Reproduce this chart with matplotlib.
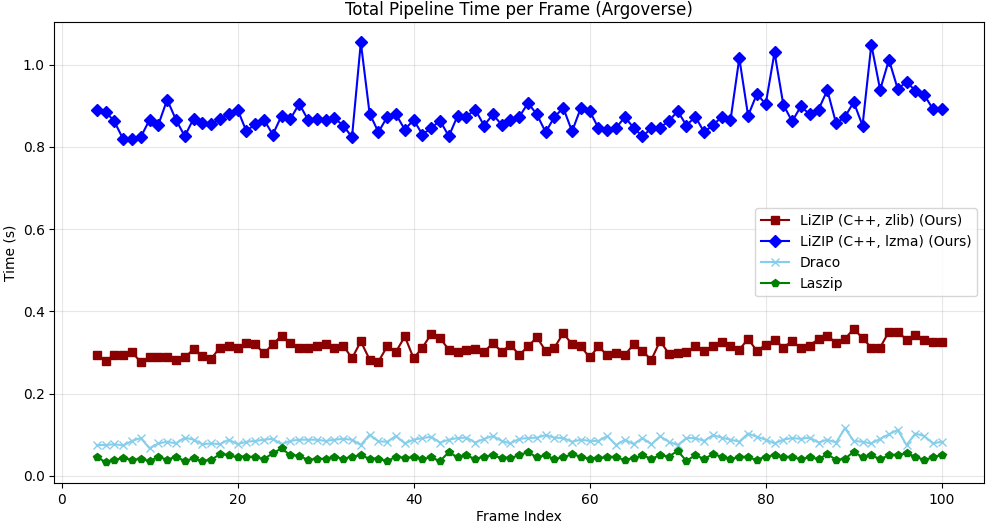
import numpy as np
import matplotlib
matplotlib.use('Agg')
from matplotlib import pyplot as plt

frames = list(range(4, 101))

zlib_times = [
    0.294, 0.280, 0.294, 0.294, 0.302, 0.276, 0.288, 0.288, 0.288, 0.282,
    0.288, 0.308, 0.292, 0.285, 0.312, 0.315, 0.312, 0.323, 0.320, 0.298,
    0.320, 0.341, 0.323, 0.311, 0.311, 0.315, 0.320, 0.312, 0.317, 0.286,
    0.327, 0.283, 0.278, 0.315, 0.302, 0.339, 0.286, 0.312, 0.345, 0.335,
    0.307, 0.302, 0.307, 0.308, 0.301, 0.323, 0.302, 0.319, 0.294, 0.315,
    0.337, 0.304, 0.312, 0.347, 0.320, 0.315, 0.288, 0.315, 0.293, 0.298,
    0.294, 0.320, 0.304, 0.282, 0.328, 0.297, 0.298, 0.301, 0.315, 0.304,
    0.315, 0.325, 0.317, 0.307, 0.333, 0.304, 0.319, 0.331, 0.312, 0.328,
    0.311, 0.317, 0.333, 0.341, 0.323, 0.333, 0.358, 0.335, 0.312, 0.312,
    0.351, 0.351, 0.331, 0.343, 0.331, 0.325, 0.325,
]

lzma_times = [
    0.889, 0.886, 0.862, 0.819, 0.819, 0.824, 0.866, 0.854, 0.915, 0.866,
    0.826, 0.869, 0.858, 0.856, 0.868, 0.880, 0.891, 0.838, 0.856, 0.866,
    0.830, 0.876, 0.868, 0.905, 0.866, 0.868, 0.866, 0.870, 0.852, 0.824,
    1.054, 0.881, 0.836, 0.873, 0.879, 0.842, 0.866, 0.830, 0.846, 0.864,
    0.826, 0.876, 0.874, 0.891, 0.852, 0.879, 0.854, 0.866, 0.873, 0.907,
    0.879, 0.836, 0.873, 0.895, 0.838, 0.895, 0.887, 0.846, 0.842, 0.846,
    0.873, 0.846, 0.826, 0.845, 0.847, 0.863, 0.887, 0.852, 0.874, 0.836,
    0.853, 0.873, 0.865, 1.016, 0.876, 0.929, 0.904, 1.030, 0.903, 0.862,
    0.899, 0.879, 0.891, 0.938, 0.857, 0.873, 0.909, 0.852, 1.049, 0.939,
    1.012, 0.941, 0.958, 0.937, 0.927, 0.892, 0.892,
]

draco_times = [
    0.075, 0.075, 0.077, 0.074, 0.085, 0.092, 0.067, 0.079, 0.083, 0.079,
    0.093, 0.088, 0.077, 0.079, 0.077, 0.088, 0.077, 0.083, 0.085, 0.088,
    0.090, 0.077, 0.085, 0.088, 0.088, 0.088, 0.085, 0.088, 0.090, 0.088,
    0.075, 0.100, 0.084, 0.083, 0.097, 0.079, 0.088, 0.092, 0.095, 0.081,
    0.088, 0.092, 0.093, 0.081, 0.090, 0.097, 0.085, 0.079, 0.090, 0.092,
    0.093, 0.099, 0.093, 0.092, 0.083, 0.088, 0.085, 0.085, 0.097, 0.075,
    0.088, 0.077, 0.092, 0.077, 0.096, 0.083, 0.075, 0.092, 0.092, 0.085,
    0.099, 0.093, 0.088, 0.083, 0.103, 0.095, 0.088, 0.079, 0.088, 0.092,
    0.090, 0.093, 0.081, 0.088, 0.081, 0.116, 0.085, 0.083, 0.079, 0.090,
    0.101, 0.112, 0.075, 0.103, 0.097, 0.079, 0.083,
]

laszip_times = [
    0.047, 0.033, 0.039, 0.043, 0.039, 0.041, 0.036, 0.047, 0.039, 0.047,
    0.036, 0.043, 0.036, 0.039, 0.053, 0.050, 0.045, 0.047, 0.045, 0.041,
    0.055, 0.067, 0.050, 0.049, 0.039, 0.041, 0.041, 0.047, 0.041, 0.047,
    0.050, 0.042, 0.041, 0.036, 0.047, 0.043, 0.045, 0.041, 0.045, 0.036,
    0.058, 0.045, 0.050, 0.041, 0.047, 0.050, 0.043, 0.043, 0.051, 0.058,
    0.045, 0.050, 0.041, 0.045, 0.053, 0.047, 0.041, 0.043, 0.045, 0.045,
    0.039, 0.043, 0.050, 0.042, 0.050, 0.047, 0.061, 0.036, 0.051, 0.041,
    0.053, 0.047, 0.041, 0.045, 0.045, 0.039, 0.047, 0.050, 0.045, 0.045,
    0.041, 0.045, 0.041, 0.053, 0.039, 0.041, 0.059, 0.045, 0.050, 0.041,
    0.050, 0.050, 0.055, 0.047, 0.039, 0.045, 0.051,
]

fig = plt.figure(figsize=(9.87, 5.24), dpi=100)
ax = fig.add_axes([54.5 / 987, 1 - 483.3 / 524, (984 - 54.5) / 987, (483.3 - 21.5) / 524])

ax.plot(frames, zlib_times, marker='s', color='darkred', label='LiZIP (C++, zlib) (Ours)')
ax.plot(frames, lzma_times, marker='D', color='blue', label='LiZIP (C++, lzma) (Ours)')
ax.plot(frames, draco_times, marker='x', color='skyblue', label='Draco')
ax.plot(frames, laszip_times, marker='p', color='green', label='Laszip')

ax.set_title('Total Pipeline Time per Frame (Argoverse)', pad=5)
ax.set_xlabel('Frame Index', labelpad=2.5)
ax.set_ylabel('Time (s)')
ax.grid(True, alpha=0.3)
ax.legend(loc='center right')

fig.savefig('out.png', dpi=100)
